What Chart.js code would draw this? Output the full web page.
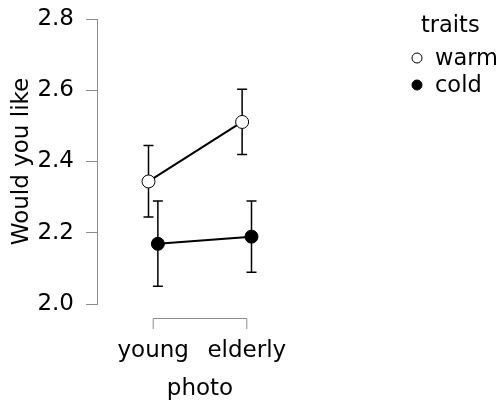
<!DOCTYPE html>
<html>
<head>
<meta charset="utf-8">
<script src="https://cdn.jsdelivr.net/npm/chart.js@4.4.0/dist/chart.umd.min.js"></script>
<style>
  body { margin: 0; background: #fff; }
</style>
</head>
<body>
<canvas id="chart" width="498" height="401"></canvas>
<script>
const photo = ['young', 'elderly'];
const traits = ['warm', 'cold'];
const warmMean = [2.344, 2.511];
const warmLow = [2.244, 2.420];
const warmHigh = [2.445, 2.603];
const coldMean = [2.169, 2.189];
const coldLow = [2.050, 2.089];
const coldHigh = [2.289, 2.289];
const yTicks = [2.0, 2.2, 2.4, 2.6, 2.8];

const axisGrey = '#8c8c8c';
const dodge = 0.05;

Chart.defaults.font.family = 'DejaVu Sans';
Chart.defaults.font.size = 23;
Chart.defaults.color = '#000';

function points(means, shift) {
  return means.map((m, i) => ({ x: i + 1 + shift, y: m }));
}

const errorBars = {
  id: 'errorBars',
  beforeDatasetsDraw(chart) {
    const ctx = chart.ctx;
    const xs = chart.scales.x, ys = chart.scales.y;
    ctx.save();
    ctx.strokeStyle = '#000';
    ctx.lineWidth = 1.5;
    chart.data.datasets.forEach(ds => {
      ds.data.forEach((p, i) => {
        const px = xs.getPixelForValue(p.x);
        const top = ys.getPixelForValue(ds.high[i]);
        const bot = ys.getPixelForValue(ds.low[i]);
        ctx.beginPath();
        ctx.moveTo(px, top); ctx.lineTo(px, bot);
        ctx.moveTo(px - 5, top); ctx.lineTo(px + 5, top);
        ctx.moveTo(px - 5, bot); ctx.lineTo(px + 5, bot);
        ctx.stroke();
      });
    });
    ctx.restore();
  }
};

// x axis bracket and the legend box on the right
const extras = {
  id: 'extras',
  afterDraw(chart) {
    const ctx = chart.ctx;
    const xs = chart.scales.x;
    const x1 = xs.getPixelForValue(1), x2 = xs.getPixelForValue(photo.length);
    ctx.save();
    ctx.strokeStyle = axisGrey;
    ctx.lineWidth = 1;
    ctx.beginPath();
    ctx.moveTo(x1, 329); ctx.lineTo(x1, 318.5); ctx.lineTo(x2, 318.5); ctx.lineTo(x2, 329);
    ctx.stroke();

    ctx.fillStyle = '#000';
    ctx.font = '22.5px "DejaVu Sans"';
    ctx.textBaseline = 'alphabetic';
    ctx.fillText('traits', 421, 32);
    chart.data.datasets.forEach((ds, i) => {
      const cy = 58 + i * 27;
      ctx.beginPath();
      ctx.arc(417, cy, 5, 0, Math.PI * 2);
      ctx.fillStyle = ds.pointBackgroundColor;
      ctx.fill();
      ctx.strokeStyle = '#000';
      ctx.lineWidth = 1;
      ctx.stroke();
      ctx.fillStyle = '#000';
      ctx.fillText(ds.label, 435, cy + 7);
    });
    ctx.restore();
  }
};

new Chart(document.getElementById('chart'), {
  type: 'line',
  data: {
    datasets: [
      {
        label: traits[0],
        data: points(warmMean, -dodge),
        low: warmLow, high: warmHigh,
        borderColor: '#000', borderWidth: 2,
        pointRadius: 6.5, pointBorderWidth: 1,
        pointBackgroundColor: '#fff', pointBorderColor: '#000'
      },
      {
        label: traits[1],
        data: points(coldMean, dodge),
        low: coldLow, high: coldHigh,
        borderColor: '#000', borderWidth: 2,
        pointRadius: 6.5, pointBorderWidth: 1,
        pointBackgroundColor: '#000', pointBorderColor: '#000'
      }
    ]
  },
  options: {
    responsive: false,
    devicePixelRatio: 1,
    animation: false,
    layout: { padding: { left: 0, top: 19, right: 195, bottom: 0 } },
    plugins: { legend: { display: false }, tooltip: { enabled: false } },
    scales: {
      x: {
        type: 'linear',
        min: 0.4,
        max: 2.6,
        afterBuildTicks: s => { s.ticks = photo.map((p, i) => ({ value: i + 1 })); },
        afterFit: s => { s.height = 97; s.paddingLeft = 0; s.paddingRight = 0; },
        ticks: { callback: v => photo[v - 1], padding: 25, maxRotation: 0 },
        grid: { display: false },
        border: { display: false },
        title: { display: true, text: 'photo', padding: { top: 0, bottom: -2 } }
      },
      y: {
        min: 2.0,
        max: 2.8,
        afterBuildTicks: s => { s.ticks = yTicks.map(v => ({ value: v })); },
        afterFit: s => { s.width = 97; s.paddingTop = 0; s.paddingBottom = 0; },
        ticks: { callback: v => v.toFixed(1), padding: 12 },
        grid: { drawOnChartArea: false, drawTicks: true, tickLength: 11, color: axisGrey },
        border: { display: true, color: axisGrey, width: 1 },
        title: { display: true, text: 'Would you like', padding: { top: 8, bottom: 0 } }
      }
    }
  },
  plugins: [errorBars, extras]
});
</script>
</body>
</html>
